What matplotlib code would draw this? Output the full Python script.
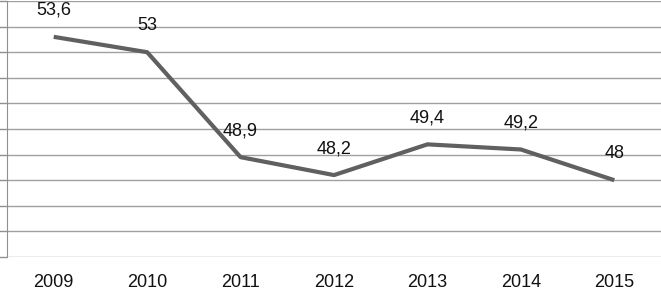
import matplotlib
matplotlib.use('Agg')
import matplotlib.pyplot as plt

years = ['2009', '2010', '2011', '2012', '2013', '2014', '2015']
values = [53.6, 53.0, 48.9, 48.2, 49.4, 49.2, 48.0]
value_labels = ['53,6', '53', '48,9', '48,2', '49,4', '49,2', '48']

plt.rcParams['font.family'] = ['Liberation Sans', 'DejaVu Sans']

fig = plt.figure(figsize=(6.61, 2.91), dpi=100)
ax = fig.add_axes([7/661, 34/291, 654/661, 256/291])

x = list(range(len(years)))
ax.plot(x, values, color='#606060', lw=3, solid_capstyle='butt', zorder=3)

for xi, v, lab in zip(x, values, value_labels):
    ax.annotate(lab, (xi, v), xytext=(0, 19), textcoords='offset points',
                ha='center', va='center', fontsize=13, color='#111111', zorder=4)

ax.set_xlim(-0.5, 6.5)
ax.set_ylim(45, 55)
ax.set_yticks(range(45, 56))
ax.set_yticklabels([])
ax.set_xticks(x)
ax.set_xticklabels(years, fontsize=13, color='#111111')
ax.tick_params(axis='x', length=0, pad=12)
ax.tick_params(axis='y', length=7, color='#909090', width=1, direction='out')
ax.grid(axis='y', color='#a0a0a0', lw=1)
for s in ['top', 'right', 'bottom']:
    ax.spines[s].set_visible(False)
ax.spines['left'].set_color('#909090')
ax.set_axisbelow(True)

fig.savefig('out.png', dpi=100)
